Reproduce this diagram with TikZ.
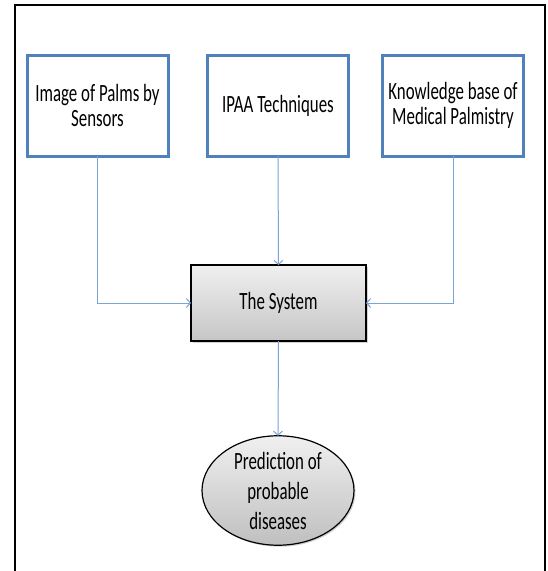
\documentclass[tikz,border=0pt]{standalone}
\usepackage{fontspec}
\setmainfont{Carlito}[FakeStretch=0.68]
\usetikzlibrary{shapes.geometric,arrows.meta,shadows}
\definecolor{boxblue}{HTML}{4F81BD}
\definecolor{linkblue}{HTML}{7DA2D6}
\begin{document}
\begin{tikzpicture}[x=1pt,y=-1pt,
  inbox/.style={draw=boxblue,line width=3pt,fill=white,minimum width=141pt,minimum height=101pt,inner sep=0pt,outer sep=0pt,align=center,font=\fontsize{24.8}{25}\selectfont},
  sysbox/.style={draw=black,line width=1.4pt,top color=gray!12,bottom color=gray!45,minimum width=175pt,minimum height=76pt,inner sep=0pt,outer sep=0pt,align=center,font=\fontsize{24.8}{25}\selectfont,drop shadow={shadow xshift=1.5pt,shadow yshift=-1.5pt,opacity=.35}},
  outbox/.style={ellipse,draw=black,line width=1.2pt,top color=gray!12,bottom color=gray!50,minimum width=152pt,minimum height=101pt,inner sep=0pt,outer sep=0pt,align=center,font=\fontsize{24.8}{30}\selectfont,drop shadow={shadow xshift=1.5pt,shadow yshift=-1.5pt,opacity=.35}},
  link/.style={draw=linkblue,line width=1pt,-{Straight Barb[length=4pt,width=9pt]}}]
\useasboundingbox (0,0) rectangle (547,571);
\fill[white] (0,0) rectangle (547,571);
\draw[line width=2.5pt] (15,571) -- (15,5) -- (545,5) -- (545,571);
\node[inbox] (img) at (97.5,105.5) {Image of Palms by\\Sensors};
\node[inbox] (ipaa) at (278,105.5) {IPAA Techniques};
\node[inbox] (kb) at (453,105.5) {Knowledge base of\\Medical Palmistry};
\node[sysbox] (sys) at (278.5,303) {The System};
\node[outbox] (pred) at (278,490.5) {Prediction of\\probable\\diseases};
\draw[link] (img.south) |- (sys.west);
\draw[link] (ipaa.south) -- (sys.north);
\draw[link] (kb.south) |- (sys.east);
\draw[link] (sys.south) -- (pred.north);
\end{tikzpicture}
\end{document}
